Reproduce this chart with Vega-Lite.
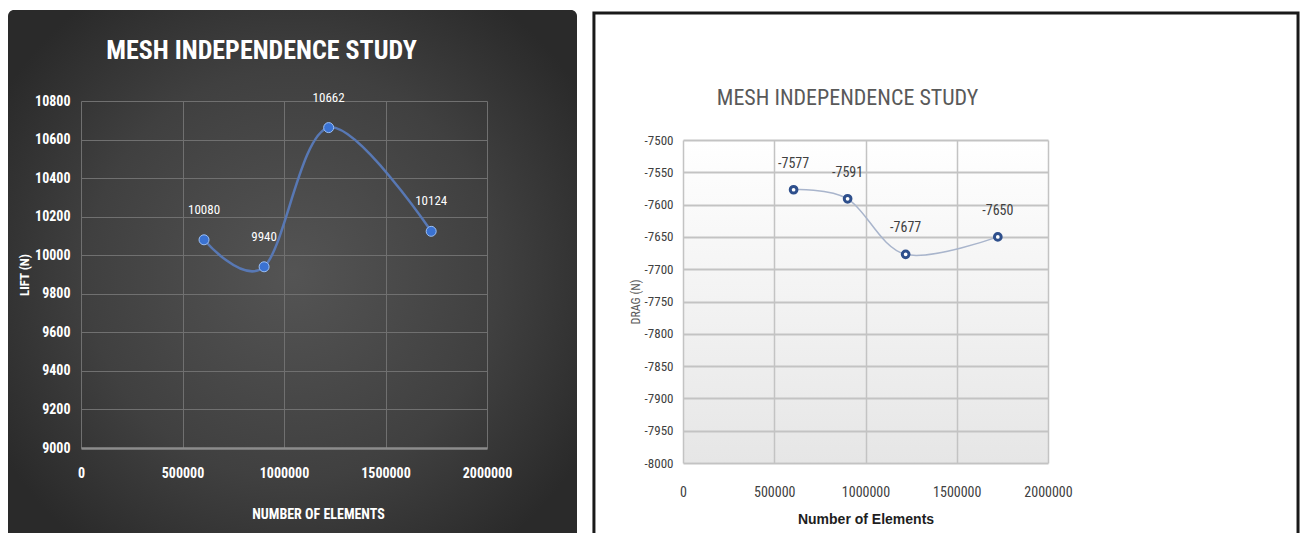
{
  "$schema": "https://vega.github.io/schema/vega-lite/v6.json",
  "background": "white",
  "padding": {"left": 8, "top": 10, "right": 0, "bottom": 0},
  "spacing": 15,
  "datasets": {
    "mesh": [
      {"elements": 606000, "lift": 10080, "drag": -7577},
      {"elements": 902000, "lift": 9940, "drag": -7591},
      {"elements": 1220000, "lift": 10662, "drag": -7677},
      {"elements": 1725000, "lift": 10124, "drag": -7650}
    ],
    "frame": [{}]
  },
  "hconcat": [
    {
      "width": 569,
      "height": 529,
      "view": {
        "fill": {"gradient": "radial", "x1": 0.5, "y1": 0.5, "r1": 0, "x2": 0.5, "y2": 0.5, "r2": 0.6,
          "stops": [{"offset": 0, "color": "#545454"}, {"offset": 0.6, "color": "#404040"}, {"offset": 1, "color": "#2a2a2a"}]},
        "stroke": null,
        "cornerRadius": 6
      },
      "title": {
        "text": "MESH INDEPENDENCE STUDY",
        "font": "Liberation Sans Narrow, Roboto Condensed, DejaVu Sans Condensed, sans-serif",
        "fontSize": 26,
        "fontWeight": "bold",
        "color": "#ffffff",
        "frame": "group",
        "anchor": "middle",
        "baseline": "alphabetic",
        "offset": -75,
        "dx": -31
      },
      "data": {"name": "mesh"},
      "encoding": {
        "x": {
          "field": "elements", "type": "quantitative",
          "scale": {"domain": [0, 2000000], "nice": false, "zero": false, "range": [73, 479]},
          "axis": {
            "values": [0, 500000, 1000000, 1500000, 2000000], "format": "d", "offset": -91,
            "grid": true, "gridColor": "#707070", "gridWidth": 1,
            "ticks": false, "domain": true, "domainColor": "#8c8c8c", "domainWidth": 2.5,
            "labelFlush": false, "labelColor": "#ffffff",
            "labelFont": "Liberation Sans Narrow, Roboto Condensed, DejaVu Sans Condensed, sans-serif",
            "labelFontSize": 14, "labelFontWeight": "bold", "labelPadding": 18,
            "title": "NUMBER OF ELEMENTS", "titleColor": "#ffffff",
            "titleFont": "Liberation Sans Narrow, Roboto Condensed, DejaVu Sans Condensed, sans-serif",
            "titleFontSize": 14, "titleFontWeight": "bold", "titlePadding": 27, "titleX": 310
          }
        },
        "y": {
          "field": "lift", "type": "quantitative",
          "scale": {"domain": [9000, 10800], "nice": false, "zero": false, "range": [438, 91]},
          "axis": {
            "values": [9000, 9200, 9400, 9600, 9800, 10000, 10200, 10400, 10600, 10800], "format": "d", "offset": -73,
            "grid": true, "gridColor": "#707070", "gridWidth": 1,
            "ticks": false, "domain": false, "labelOverlap": false,
            "labelColor": "#ffffff",
            "labelFont": "Liberation Sans Narrow, Roboto Condensed, DejaVu Sans Condensed, sans-serif",
            "labelFontSize": 14, "labelFontWeight": "bold", "labelPadding": 11,
            "title": "LIFT (N)", "titleColor": "#ffffff",
            "titleFont": "Liberation Sans Narrow, Roboto Condensed, DejaVu Sans Condensed, sans-serif",
            "titleFontSize": 13, "titleFontWeight": "bold", "titlePadding": 3
          }
        }
      },
      "layer": [
        {"mark": {"type": "line", "interpolate": "cardinal", "color": "#5878b4", "strokeWidth": 2.5}},
        {"mark": {"type": "point", "shape": "circle", "filled": true, "size": 100, "opacity": 1, "fill": "#3a72d2", "stroke": "#9cc0f5", "strokeWidth": 1}},
        {"mark": {"type": "text", "dy": -30, "color": "#ffffff",
          "font": "Liberation Sans Narrow, Roboto Condensed, DejaVu Sans Condensed, sans-serif", "fontSize": 13},
         "encoding": {"text": {"field": "lift", "type": "nominal"}}}
      ]
    },
    {
      "width": 365,
      "height": 583,
      "view": {
        "fill": {"gradient": "linear", "x1": 0, "y1": 0, "x2": 0, "y2": 1,
          "stops": [{"offset": 0, "color": "#ffffff"}, {"offset": 0.223, "color": "#ffffff"}, {"offset": 0.776, "color": "#e6e6e6"}, {"offset": 0.777, "color": "#ffffff"}, {"offset": 1, "color": "#ffffff"}]},
        "stroke": null
      },
      "title": {
        "text": "MESH INDEPENDENCE STUDY",
        "font": "Liberation Sans Narrow, Roboto Condensed, DejaVu Sans Condensed, sans-serif",
        "fontSize": 22,
        "fontWeight": "normal",
        "color": "#595959",
        "frame": "group",
        "anchor": "middle",
        "baseline": "alphabetic",
        "offset": -117,
        "dx": -18
      },
      "resolve": {"axis": {"x": "independent", "y": "independent"}},
      "layer": [
        {
          "data": {"name": "mesh"},
          "encoding": {
            "x": {
              "field": "elements", "type": "quantitative",
              "scale": {"domain": [0, 2000000], "nice": false, "zero": false},
              "axis": {
                "values": [0, 500000, 1000000, 1500000, 2000000], "format": "d", "offset": -130,
                "grid": true, "gridColor": "#c3c3c3", "gridWidth": 1.5,
                "ticks": false, "domain": false,
                "labelFlush": false, "labelColor": "#404040",
                "labelFont": "Liberation Sans Narrow, Roboto Condensed, DejaVu Sans Condensed, sans-serif",
                "labelFontSize": 14, "labelPadding": 22,
                "title": "Number of Elements", "titleColor": "#1e1e1e",
                "titleFont": "Liberation Sans, Arial, sans-serif",
                "titleFontSize": 14, "titleFontWeight": "bold", "titlePadding": 13
              }
            },
            "y": {
              "field": "drag", "type": "quantitative",
              "scale": {"domain": [-8000, -7500], "nice": false, "zero": false, "range": [453, 130]},
              "axis": {
                "values": [-8000, -7950, -7900, -7850, -7800, -7750, -7700, -7650, -7600, -7550, -7500],
                "labelExpr": "toString(datum.value)",
                "grid": true, "gridColor": "#c3c3c3", "gridWidth": 2,
                "ticks": false, "domain": false, "labelOverlap": false,
                "labelColor": "#404040",
                "labelFont": "Liberation Sans Narrow, Roboto Condensed, DejaVu Sans Condensed, sans-serif",
                "labelFontSize": 13, "labelPadding": 10,
                "title": "DRAG (N)", "titleColor": "#595959",
                "titleFont": "Liberation Sans Narrow, Roboto Condensed, DejaVu Sans Condensed, sans-serif",
                "titleFontSize": 12, "titleFontWeight": "normal", "titlePadding": 2
              }
            }
          },
          "layer": [
            {"mark": {"type": "line", "interpolate": "cardinal", "color": "#a9b5cc", "strokeWidth": 1.5}},
            {"mark": {"type": "point", "shape": "circle", "filled": true, "size": 45, "fill": "#ffffff", "stroke": "#2e4f8c", "strokeWidth": 3, "opacity": 1}},
            {"mark": {"type": "text", "dy": -26, "color": "#404040",
              "font": "Liberation Sans Narrow, Roboto Condensed, DejaVu Sans Condensed, sans-serif", "fontSize": 14},
             "encoding": {"text": {"field": "drag", "type": "nominal"}}}
          ]
        },
        {
          "data": {"name": "frame"},
          "mark": {"type": "rect", "fillOpacity": 0, "stroke": "#1a1a1a", "strokeWidth": 3},
          "encoding": {
            "x": {"datum": -488000, "type": "quantitative", "axis": null},
            "x2": {"datum": 3370000},
            "y": {"datum": -7303.4, "type": "quantitative", "axis": null},
            "y2": {"datum": -8125}
          }
        }
      ]
    }
  ]
}
